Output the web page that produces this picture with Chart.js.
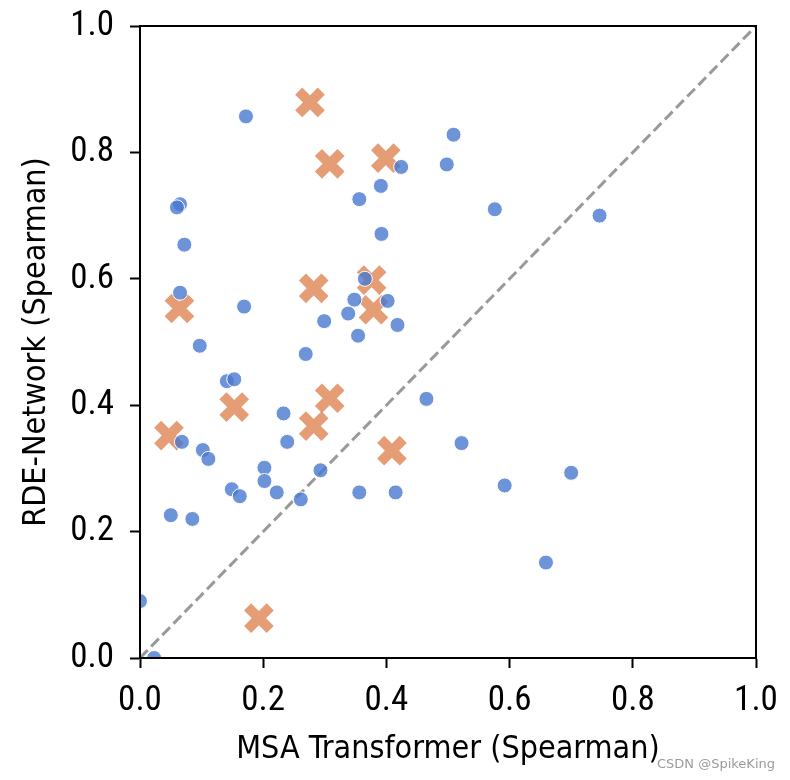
<!DOCTYPE html>
<html>
<head>
<meta charset="utf-8">
<script src="https://cdn.jsdelivr.net/npm/chart.js@4/dist/chart.umd.min.js"></script>
<style>
  body { margin: 0; background: #fff; }
  #wrap { width: 790px; height: 780px; }
</style>
</head>
<body>
<div id="wrap"><canvas id="chart" width="790" height="780"></canvas></div>
<script>
// MSA Transformer (x) vs RDE-Network (y), Spearman
const blueX = [0.172, 0.509, 0.498, 0.424, 0.576, 0.746, 0.391, 0.356, 0.392, 0.065, 0.060, 0.072,
    0.065, 0.169, 0.365, 0.348, 0.402, 0.338, 0.299, 0.418, 0.354, 0.097, 0.269, 0.141,
    0.153, 0.465, 0.233, 0.068, 0.239, 0.522, 0.102, 0.111, 0.202, 0.293, 0.700, 0.202,
    0.592, 0.149, 0.222, 0.162, 0.356, 0.415, 0.261, 0.050, 0.085, 0.659, 0.000, 0.023];
const blueY = [0.857, 0.828, 0.781, 0.777, 0.710, 0.700, 0.747, 0.726, 0.671, 0.718, 0.713, 0.654,
    0.578, 0.556, 0.600, 0.567, 0.565, 0.545, 0.533, 0.527, 0.510, 0.494, 0.481, 0.438,
    0.441, 0.410, 0.387, 0.342, 0.342, 0.340, 0.329, 0.315, 0.301, 0.297, 0.293, 0.280,
    0.273, 0.267, 0.262, 0.256, 0.262, 0.262, 0.251, 0.226, 0.220, 0.151, 0.090, 0.000];
const crossX = [0.276, 0.308, 0.399, 0.376, 0.282, 0.379, 0.064, 0.153, 0.308, 0.282, 0.047, 0.409, 0.193];
const crossY = [0.879, 0.782, 0.791, 0.598, 0.585, 0.551, 0.553, 0.397, 0.411, 0.367, 0.352, 0.328, 0.063];
const diagX = [0, 1];
const diagY = [0, 1];
const tickValues = [0, 0.2, 0.4, 0.6, 0.8, 1.0];

const tickFont = { family: "'Roboto Condensed', 'Liberation Sans Narrow', 'DejaVu Sans Condensed', sans-serif", size: 35 };
const titleFont = { family: "'DejaVu Sans Condensed', 'Liberation Sans Narrow', sans-serif", size: 32 };

const toPoints = (xs, ys) => xs.map((x, i) => ({ x: x, y: ys[i] }));

// box around the plot + watermark
const framePlugin = {
    id: 'frame',
    beforeDraw(chart) {
        const ctx = chart.ctx;
        ctx.save();
        ctx.fillStyle = '#fff';
        ctx.fillRect(0, 0, chart.width, chart.height);
        ctx.restore();
    },
    afterDraw(chart) {
        const { ctx, chartArea: a } = chart;
        ctx.save();
        ctx.strokeStyle = '#000';
        ctx.lineWidth = 2;
        ctx.strokeRect(a.left, a.top, a.right - a.left, a.bottom - a.top);
        ctx.font = "13px 'DejaVu Sans', sans-serif";
        ctx.fillStyle = '#9a9a9a';
        ctx.textAlign = 'right';
        ctx.textBaseline = 'alphabetic';
        ctx.fillText('CSDN @SpikeKing', 775, 768);
        ctx.restore();
    }
};

new Chart(document.getElementById('chart'), {
    type: 'scatter',
    data: {
        datasets: [
            {
                data: toPoints(blueX, blueY),
                backgroundColor: 'rgba(72, 120, 208, 0.8)',
                borderColor: '#fff',
                borderWidth: 1,
                pointRadius: 7.5
            },
            {
                data: toPoints(crossX, crossY),
                pointStyle: 'crossRot',
                borderColor: 'rgba(221, 132, 82, 0.8)',
                borderWidth: 10,
                pointRadius: 16
            },
            {
                type: 'line',
                data: toPoints(diagX, diagY),
                borderColor: 'rgba(128, 128, 128, 0.8)',
                borderWidth: 3,
                borderDash: [11, 5],
                pointRadius: 0,
                fill: false
            }
        ]
    },
    options: {
        responsive: false,
        animation: false,
        events: [],
        layout: { padding: { left: 0, top: 21, right: 34, bottom: 0 } },
        plugins: { legend: { display: false }, tooltip: { enabled: false } },
        scales: {
            x: {
                type: 'linear',
                min: 0, max: 1,
                afterFit: (s) => { s.height = 122; s.paddingLeft = 0; s.paddingRight = 0; },
                afterBuildTicks: (s) => { s.ticks = tickValues.map(v => ({ value: v })); },
                ticks: { font: tickFont, color: '#000', padding: 12, maxRotation: 0,
                    callback: (v) => v.toFixed(1) },
                grid: { drawOnChartArea: false, tickLength: 10, tickColor: '#000', tickWidth: 2 },
                border: { color: '#000', width: 2 },
                title: { display: true, text: 'MSA Transformer (Spearman)', font: titleFont,
                    color: '#000', padding: { top: 0, bottom: 11 } }
            },
            y: {
                type: 'linear',
                min: 0, max: 1,
                afterFit: (s) => { s.width = 140; s.paddingTop = 0; s.paddingBottom = 0; },
                afterBuildTicks: (s) => { s.ticks = tickValues.map(v => ({ value: v })); },
                ticks: { font: tickFont, color: '#000', padding: 16,
                    callback: (v) => v.toFixed(1) },
                grid: { drawOnChartArea: false, tickLength: 10, tickColor: '#000', tickWidth: 2 },
                border: { color: '#000', width: 2 },
                title: { display: true, text: 'RDE-Network (Spearman)', font: titleFont,
                    color: '#000', padding: { top: 17, bottom: 0 } }
            }
        }
    },
    plugins: [framePlugin]
});
</script>
</body>
</html>
